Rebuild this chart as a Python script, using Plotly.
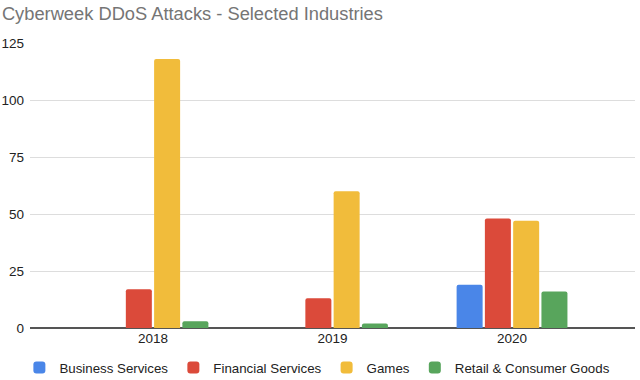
import plotly.graph_objects as go

years = ["2018", "2019", "2020"]
business = [0, 0, 19]
financial = [17, 13, 48]
games = [118, 60, 47]
retail = [3, 2, 16]

series = [
    ("Business Services", business, "#4a86e8"),
    ("Financial Services", financial, "#db4a3a"),
    ("Games", games, "#f1bc3b"),
    ("Retail & Consumer Goods", retail, "#58a55c"),
]

fig = go.Figure()
for name, vals, col in series:
    fig.add_trace(go.Bar(x=years, y=vals, name=name, marker=dict(color=col, line=dict(width=0))))

fig.update_layout(
    width=640, height=380,
    paper_bgcolor="white", plot_bgcolor="white",
    margin=dict(l=30, r=5, t=43, b=52, autoexpand=False),
    title=dict(text="Cyberweek DDoS Attacks - Selected Industries", x=0.003, xanchor="left",
               y=0.963, yanchor="middle",
               font=dict(family="Liberation Sans, Arial", size=18.3, color="#757575")),
    font=dict(family="Liberation Sans, Arial", size=13.5, color="#222222"),
    barmode="group", bargap=0.37, bargroupgap=0.08, barcornerradius=2,
    showlegend=True,
    legend=dict(orientation="h", x=0.475, xanchor="center", y=-0.14, yanchor="middle",
                font=dict(size=13.3, color="#222222"), itemwidth=30),
    xaxis=dict(type="category", range=[-0.685, 2.685], showgrid=False, ticks="",
               showline=False, automargin=False, tickfont=dict(size=13.5, color="#222222")),
    yaxis=dict(range=[0, 125], tickvals=[0, 25, 50, 75, 100, 125], gridcolor="#dddddd",
               gridwidth=1, zeroline=True, zerolinecolor="#555555", zerolinewidth=1.5,
               showline=False, ticks="", automargin=False,
               tickfont=dict(size=13.5, color="#222222"), ticklabelstandoff=5),
)

fig.write_html("out.html", config={"displayModeBar": False},
               post_script="document.body.style.margin='0';")
